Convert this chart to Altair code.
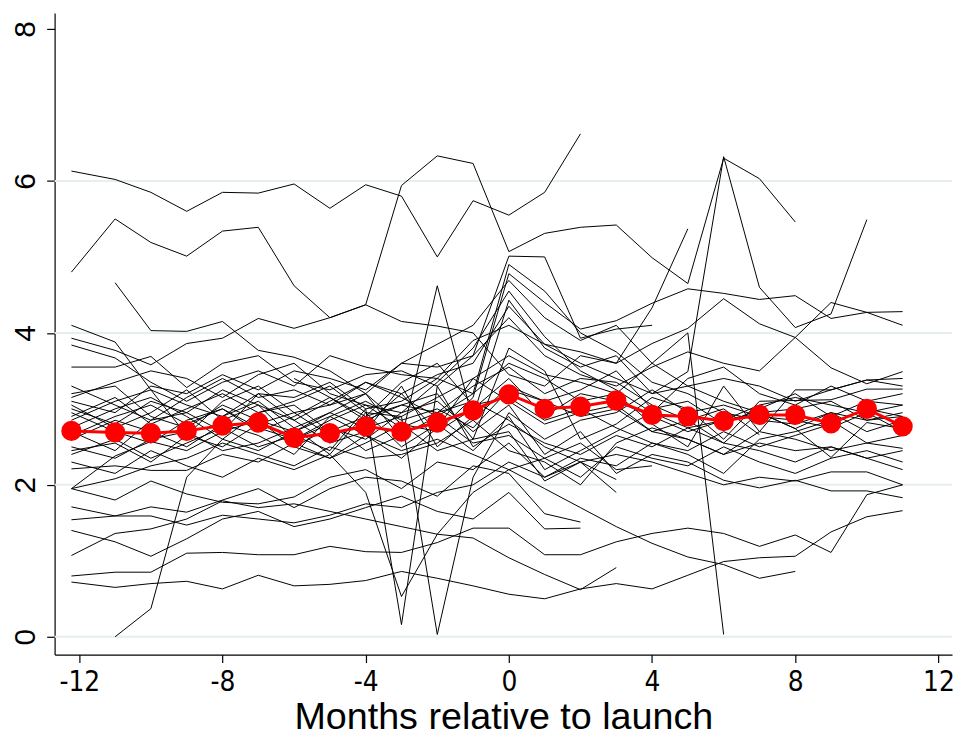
import altair as alt
import pandas as pd

N = None

# x positions of the monthly bins (first bin is drawn slightly left of -12)
months = [-12.22, -11, -10, -9, -8, -7, -6, -5, -4, -3, -2, -1,
          0, 1, 2, 3, 4, 5, 6, 7, 8, 9, 10, 11]

# average (red) series
mean_vals = [2.71, 2.69, 2.68, 2.71, 2.78, 2.82, 2.62, 2.68, 2.77, 2.70, 2.82, 2.98,
             3.19, 3.00, 3.03, 3.11, 2.92, 2.90, 2.84, 2.92, 2.92, 2.81, 3.00, 2.77]

# individual (black) series
s01 = [6.13, 6.02, 5.85, 5.60, 5.85, 5.84, 5.96, 5.64, 5.95, 5.80, 5.00, 5.74, 5.55, 5.85, 6.62, N, N, N, N, N, N, N, N, N]
s02 = [4.80, 5.50, 5.19, 5.01, 5.34, 5.39, 4.62, 4.20, 4.37, 5.94, 6.33, 6.23, 5.07, 5.31, 5.39, 5.42, 4.99, 4.65, 6.30, 6.03, 5.46, N, N, N]
s03 = [N, 4.66, 4.03, 4.02, 4.15, 3.77, 3.68, 3.50, 3.20, 3.60, 3.85, 4.10, 4.69, 4.20, 3.90, 4.10, 3.60, 3.30, 3.40, 3.30, 3.10, 3.25, 3.38, 3.30]
s04 = [4.10, 3.88, 3.25, 2.65, 3.10, 3.30, 2.95, 3.05, 3.20, 2.80, 2.70, 3.15, 4.78, 4.40, 4.05, 4.16, 4.39, 4.58, 4.52, 4.44, 4.49, 4.19, 4.27, 4.28]
s05 = [3.93, 3.77, 3.58, 3.86, 3.93, 4.19, 4.06, 4.20, 4.37, 4.15, 4.09, 4.00, 3.45, 3.30, 3.70, 3.60, 3.86, 4.06, 4.45, 4.12, 3.94, 3.54, 3.33, 3.49]
s06 = [3.84, 3.67, 3.35, 3.10, 3.35, 3.50, 3.30, 3.70, 3.55, 3.45, 3.40, 3.20, 4.90, 4.55, 4.00, 3.75, 3.35, 3.20, 2.95, 2.85, 2.80, 2.95, 2.70, 2.85]
s07 = [3.55, 3.55, 3.69, 3.28, 3.60, 3.70, 3.35, 3.25, 3.45, 3.50, 3.30, 3.70, 5.01, 5.00, 3.93, 4.05, 4.10, N, N, N, N, N, N, N]
s08 = [3.20, 3.30, 2.90, 2.75, 3.05, 2.85, 2.70, 2.95, 3.20, 2.60, 4.62, 2.85, 3.30, 3.10, 3.25, 3.50, 3.00, 3.10, 2.80, 3.00, 3.20, 2.90, 3.10, 3.05]
s09 = [3.00, 2.80, 3.10, 2.95, 2.70, 3.20, 2.85, 2.55, 2.70, 3.30, 2.50, 2.90, 4.43, 3.80, 3.55, 3.70, 3.20, 3.30, 3.10, 2.95, 2.74, 2.36, 2.82, 2.74]
s10 = [2.95, 2.70, 2.55, 2.85, 3.00, 2.75, 2.60, 2.80, 2.45, 2.65, 2.90, 3.20, 3.60, 3.40, 3.10, 3.20, 2.80, 2.50, 3.30, 2.70, 3.25, 3.25, 3.38, 3.40]
s11 = [2.75, 3.00, 3.15, 2.90, 2.60, 2.95, 3.05, 2.70, 2.90, 3.05, 3.20, 2.60, 3.80, 3.50, 2.60, 2.80, 3.15, 3.00, 2.60, 3.10, 3.11, 3.12, 3.26, 3.26]
s12 = [2.60, 2.85, 2.70, 2.50, 2.80, 2.65, 2.40, 2.90, 2.65, 2.35, 2.75, 3.40, 3.10, 2.80, 2.95, 3.05, 2.70, 2.85, 2.55, 2.95, 2.74, 2.95, 2.85, 2.90]
s13 = [2.50, 2.35, 2.60, 2.70, 2.45, 2.55, 2.75, 2.40, 2.95, 2.50, 2.80, 2.45, 2.90, 2.20, 2.45, 2.70, 2.95, 3.40, 3.55, 3.20, 3.05, 3.30, 3.10, 3.20]
s14 = [2.21, 2.25, 2.19, 2.19, 2.40, 2.30, 2.55, 2.35, 2.55, 2.80, 2.45, 2.60, 2.70, 2.05, 2.30, 2.40, 2.30, 2.15, 2.00, 2.10, 2.05, 2.17, 2.17, 2.00]
s15 = [1.95, 2.38, 2.57, 2.45, 2.70, 2.85, 2.50, 2.75, 2.60, 2.95, 3.10, 2.70, 3.05, 2.40, 2.70, 2.15, 2.40, 2.30, 2.06, 1.96, 2.06, 1.92, 1.92, 1.83]
s16 = [1.95, 1.80, 2.05, 1.88, 1.77, 1.75, 1.84, 2.10, 2.20, 1.95, 2.30, 2.20, 2.55, 2.10, 2.30, 1.90, N, N, N, N, N, N, N, N]
s17 = [1.95, 2.08, 2.25, 2.35, 2.55, 2.40, 2.25, 2.50, 2.35, 2.40, 2.55, 2.85, 2.45, 2.30, 2.00, 2.55, 2.75, 2.60, 2.40, 2.55, 2.45, 2.50, 2.35, 2.45]
s18 = [1.71, 1.59, 1.71, 1.64, 1.80, 1.95, 1.70, 1.95, 2.10, 2.05, 1.85, 2.25, 2.15, 1.62, 1.51, N, N, N, N, N, N, N, N, N]
s19 = [1.54, 1.59, 1.59, 1.47, 1.60, 1.55, 1.50, 1.60, 1.75, 1.70, 1.90, 2.00, 2.30, 2.10, 2.35, 2.25, 2.55, 2.40, 2.15, 2.60, 2.70, 2.85, 2.55, 2.65]
s20 = [1.40, 1.25, 1.06, 1.29, 1.55, 1.65, 1.45, 1.55, 1.70, 1.85, 1.65, 1.55, 1.90, 1.42, 1.43, N, N, N, N, N, N, N, N, N]
s21 = [1.07, 1.36, 1.42, 1.55, 1.79, 1.70, 1.75, 1.65, 1.55, 1.45, 1.35, 1.30, 1.04, 0.82, 0.62, 0.91, N, N, N, N, N, N, N, N]
s22 = [0.80, 0.85, 0.85, 1.10, 1.11, 1.08, 1.08, 1.19, 1.12, 1.11, 1.24, 1.43, 1.43, 1.08, 1.08, 1.25, 1.36, 1.43, 1.36, 1.19, 1.34, 1.11, 1.87, 2.00]
s23 = [0.72, 0.65, 0.70, 0.73, 0.63, 0.81, 0.67, 0.69, 0.74, 0.86, 0.77, 0.67, 0.56, 0.50, 0.63, 0.70, 0.63, 0.81, 0.99, 1.04, 1.06, 1.38, 1.58, 1.66]
s24 = [N, 0.00, 0.37, 2.10, 2.60, 2.45, 2.70, 2.90, 3.10, 2.85, 3.00, 2.75, 3.25, 3.10, 2.90, 3.00, 2.70, 2.60, 2.40, 2.70, 2.60, 2.45, 2.55, 2.48]
s25 = [2.40, 2.60, 2.35, 2.55, 2.75, 2.50, 2.65, 2.45, 3.00, 0.16, 3.30, 2.50, 2.80, 2.55, 2.40, 2.65, 2.50, 2.75, 2.55, 2.45, 2.30, 2.50, 2.35, 2.20]
s26 = [2.90, 3.15, 2.80, 3.00, 3.20, 2.95, 3.10, 3.30, 2.95, 2.90, 0.03, 2.10, 2.95, 2.60, 2.85, 2.95, 3.25, 2.95, 3.05, 2.90, 2.85, 2.75, 2.95, 3.05]
s27 = [2.30, 2.15, 2.45, 2.25, 2.10, 2.35, 2.20, 2.40, 1.90, 0.53, 1.35, 1.90, 2.20, 2.35, 2.10, 2.50, 2.35, 2.25, 2.50, 2.30, 2.15, 2.35, 2.45, 2.30]
s28 = [N, N, N, N, 2.90, 3.10, 2.75, 2.95, 2.75, 2.90, 3.15, 3.40, 3.70, 3.45, 3.35, 3.20, 3.60, 4.00, 0.03, N, N, N, N, N]
s29 = [3.30, 3.05, 2.85, 3.15, 3.40, 3.15, 3.25, 3.05, 3.35, 3.20, 3.45, 3.60, 4.35, 3.85, 3.75, 3.60, 4.33, 5.37, N, N, N, N, N, N]
s30 = [2.85, 3.10, 3.25, 3.05, 2.90, 3.20, 3.15, 3.35, 3.00, 3.10, 3.40, 3.90, 4.10, 3.85, 3.60, 3.40, 3.20, 3.49, 6.32, 4.60, 4.07, 4.25, 5.49, N]
s31 = [3.10, 2.95, 3.30, 3.20, 3.45, 3.25, 3.50, 3.40, 3.25, 3.60, 3.55, 3.70, 4.20, 3.70, 3.45, 3.30, 3.55, 3.75, 3.60, 3.50, 3.94, 4.40, 4.27, 4.10]
s32 = [N, N, N, N, N, N, 2.50, 2.35, 2.65, 2.45, 2.60, 2.40, 2.20, 1.95, 1.70, 1.45, 1.23, 1.05, 0.95, 0.77, 0.86, N, N, N]
s33 = [2.65, 2.90, 3.05, 2.80, 3.00, 2.70, 2.90, 3.15, 2.85, 3.05, 2.95, 3.30, 3.55, 3.20, 3.40, 3.35, 3.05, 2.85, 3.00, 2.66, N, N, N, N]
s34 = [3.05, 2.75, 2.95, 3.25, 2.85, 3.05, 2.60, 2.85, 3.05, 2.75, 2.95, 3.10, 2.85, 2.50, 2.30, 2.07, N, N, N, N, N, N, N, N]
s35 = [2.45, 2.55, 2.30, 2.65, 2.50, 2.80, 2.95, 2.65, 2.80, 3.20, 2.70, 3.00, 3.40, 2.90, 3.20, 3.10, 2.90, 2.70, 2.85, 3.05, 3.15, 3.05, 2.95, 2.70]
s36 = [N, N, N, N, N, N, 3.40, 3.15, 2.90, 3.35, 3.60, 3.05, 3.15, 2.85, 3.00, 2.75, 2.55, 2.45, 2.70, 2.50, 2.65, 2.80, 3.00, 2.90]
s37 = [3.15, 3.35, 3.50, 3.40, 3.15, 3.45, 3.60, 3.20, 3.05, 2.95, 3.35, 3.80, 4.55, 3.95, 3.50, 3.25, 2.95, 2.75, 2.85, 2.95, 3.00, 3.10, 2.85, 2.95]
s38 = [2.70, 2.45, 2.85, 2.95, 3.25, 3.05, 2.85, 3.10, 3.35, 3.15, 2.90, 2.55, 2.65, 2.35, 2.55, 2.20, 2.25, N, N, N, N, N, N, N]

series = [s01, s02, s03, s04, s05, s06, s07, s08, s09, s10, s11, s12, s13,
          s14, s15, s16, s17, s18, s19, s20, s21, s22, s23, s24, s25, s26,
          s27, s28, s29, s30, s31, s32, s33, s34, s35, s36, s37, s38]

grid_vals = [0, 2, 4, 6]
x_ticks = [-12, -8, -4, 0, 4, 8, 12]
y_ticks = [0, 2, 4, 6, 8]

rows = []
for i, s in enumerate(series):
    for mx, v in zip(months, s):
        if v is not None:
            rows.append({"unit": i, "month": mx, "value": v})
df = pd.DataFrame(rows)
mean_df = pd.DataFrame({"month": months, "value": mean_vals})
grid_df = pd.DataFrame({"g": grid_vals})

xscale = alt.Scale(domain=[-12.69, 12.38], nice=False, zero=False)
yscale = alt.Scale(domain=[-0.235, 8.21], nice=False, zero=False)

xaxis = alt.Axis(values=x_ticks, title="Months relative to launch", grid=False,
                 tickSize=8, labelFontSize=28, labelPadding=6,
                 labelFont="'DejaVu Sans Condensed', 'Liberation Sans', sans-serif",
                 labelExpr="datum.value < 0 ? '-' + abs(datum.value) : '' + datum.value",
                 titleFontSize=38, titleFontWeight="normal", titlePadding=3)
yaxis = alt.Axis(values=y_ticks, title=None, grid=False, tickSize=8,
                 labelFontSize=30, labelAngle=270, labelAlign="center",
                 labelBaseline="bottom", labelPadding=6, format="d")

grid = alt.Chart(grid_df).mark_rule(color="#e6eef0", strokeWidth=2).encode(
    y=alt.Y("g:Q", scale=yscale, axis=yaxis)
)

lines = alt.Chart(df).mark_line(color="black", strokeWidth=1).encode(
    x=alt.X("month:Q", scale=xscale, axis=xaxis),
    y=alt.Y("value:Q", scale=yscale, axis=yaxis),
    detail="unit:N",
)

mean_line = alt.Chart(mean_df).mark_line(color="#ff0000", strokeWidth=3).encode(
    x=alt.X("month:Q", scale=xscale, axis=xaxis),
    y=alt.Y("value:Q", scale=yscale, axis=yaxis),
)

mean_pts = alt.Chart(mean_df).mark_circle(color="#ff0000", size=420, opacity=1).encode(
    x=alt.X("month:Q", scale=xscale, axis=xaxis),
    y=alt.Y("value:Q", scale=yscale, axis=yaxis),
)

chart = alt.layer(grid, lines, mean_line, mean_pts).properties(
    width=905, height=647,
    autosize=alt.AutoSizeParams(type="none"),
    padding={"left": 47, "top": 2, "right": 3, "bottom": 82},
).configure(
    font="Liberation Sans",
).configure_view(
    stroke=None
).configure_axis(
    domainColor="black", domainWidth=1.2, tickColor="black", tickWidth=1.2,
    labelColor="black", titleColor="black",
    titleFont="Liberation Sans",
)

chart.save("out.html", embed_options={"renderer": "svg", "actions": False})
